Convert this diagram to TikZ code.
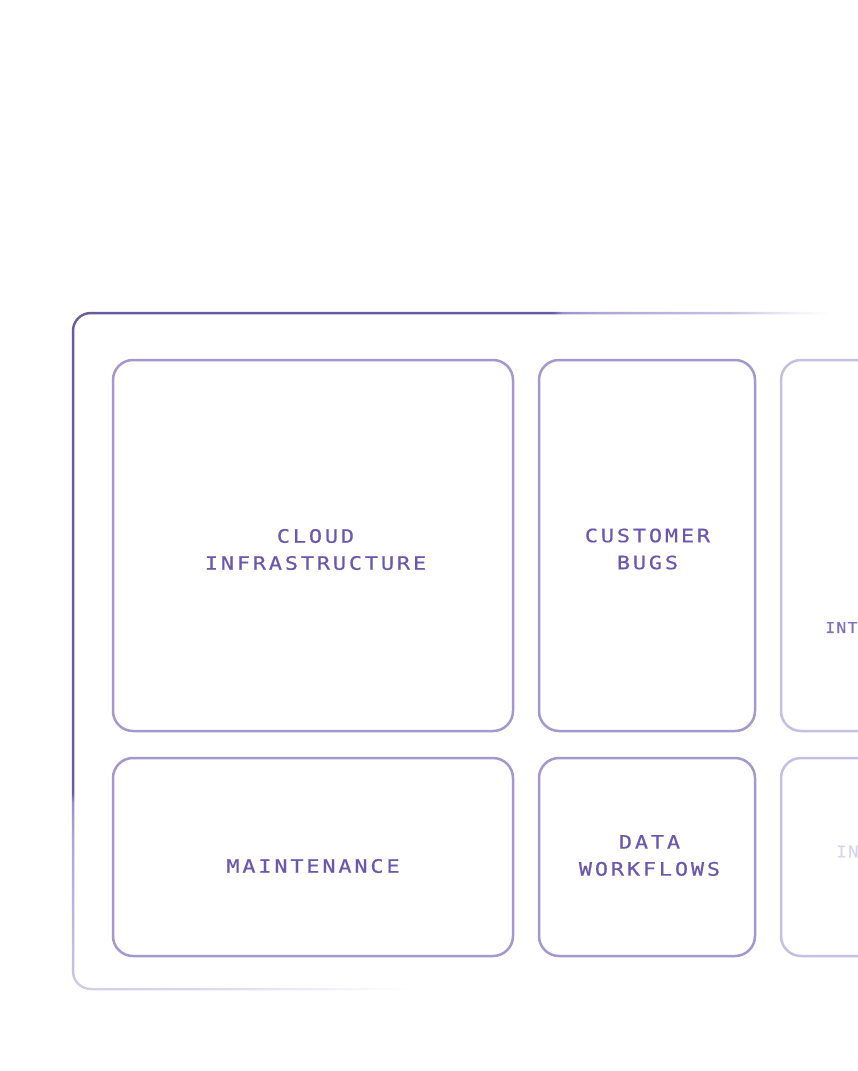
\documentclass[tikz,border=0pt]{standalone}
\usepackage{fontspec}
\newfontfamily\tilefont{DejaVu Sans Mono}[FakeStretch=1.18, FakeBold=0.5, LetterSpace=15.5]
\newfontfamily\edgefont{DejaVu Sans Mono}[FakeStretch=1.1, FakeBold=0.4, LetterSpace=8]

\definecolor{framedark}{HTML}{6A5A9E}
\definecolor{frameA}{HTML}{9C8FCC}
\definecolor{frameB}{HTML}{B0A5D8}
\definecolor{frameC}{HTML}{C8C0E3}
\definecolor{frameD}{HTML}{EEEBF7}
\definecolor{tileline}{HTML}{A598CF}
\definecolor{tilefaint}{HTML}{C6BFE4}
\definecolor{tiletext}{HTML}{6B56B0}
\definecolor{textfaint}{HTML}{D9D3F1}

\pgfdeclareradialshading{framering}{\pgfpoint{0bp}{0bp}}{color(0bp)=(framedark); color(15bp)=(framedark); color(15.3bp)=(frameA); color(16.5bp)=(frameB); color(20.5bp)=(frameC); color(22.3bp)=(frameD); color(23.6bp)=(white); color(50bp)=(white)}

\tikzset{
  tile/.style={draw=tileline, line width=2.5pt, rounded corners=20pt, inner sep=0pt, outer sep=0pt, anchor=north west},
  wide/.style={minimum width=400pt},
  narrow/.style={minimum width=216pt},
  tall/.style={minimum height=371pt},
  low/.style={minimum height=198pt},
  tilelabel/.style={text=tiletext, font=\tilefont\fontsize{18.5}{27}\selectfont, align=center, inner sep=0pt}
}

\begin{document}
\begin{tikzpicture}[x=1pt, y=-1pt]
\useasboundingbox (0, 0) rectangle (858, 1071);
\clip (0, 0) rectangle (858, 1071);

% outer frame, fading away from the top left corner
\begin{scope}
\clip[rounded corners=19.25pt] (71.75, 311.75) rectangle (871.25, 990.25);
\shade[shading=framering] (-727, -487) rectangle (873, 1113);
\fill[white, rounded corners=16.75pt] (74.25, 314.25) rectangle (868.75, 987.75);
\end{scope}

% tiles
\node [tile, wide, tall] (cloud) at (113, 360) {};
\node [tile, narrow, tall] (bugs) at (539, 360) {};
\node [tile, narrow, tall, draw=tilefaint] (integ) at (781, 360) {};
\node [tile, wide, low] (maint) at (113, 758) {};
\node [tile, narrow, low] (data) at (539, 758) {};
\node [tile, narrow, low, draw=tilefaint] (infra) at (781, 758) {};

% labels
\node [tilelabel] (cloudtext) at (315.5, 549.5) {CLOUD\\INFRASTRUCTURE};
\node [tilelabel] (bugstext) at (647.5, 549) {CUSTOMER\\BUGS};
\node [tilelabel] (mainttext) at (313, 866) {MAINTENANCE};
\node [tilelabel] (datatext) at (649.5, 855.5) {DATA\\WORKFLOWS};
\node [tilelabel, anchor=west, text=tiletext!85!white, font=\edgefont\fontsize{15}{20}\selectfont] (integtext) at (825, 627.5) {INT};
\node [tilelabel, anchor=west, text=textfaint, font=\edgefont\fontsize{16}{20}\selectfont] (infratext) at (836, 851.5) {IN};
\end{tikzpicture}
\end{document}
